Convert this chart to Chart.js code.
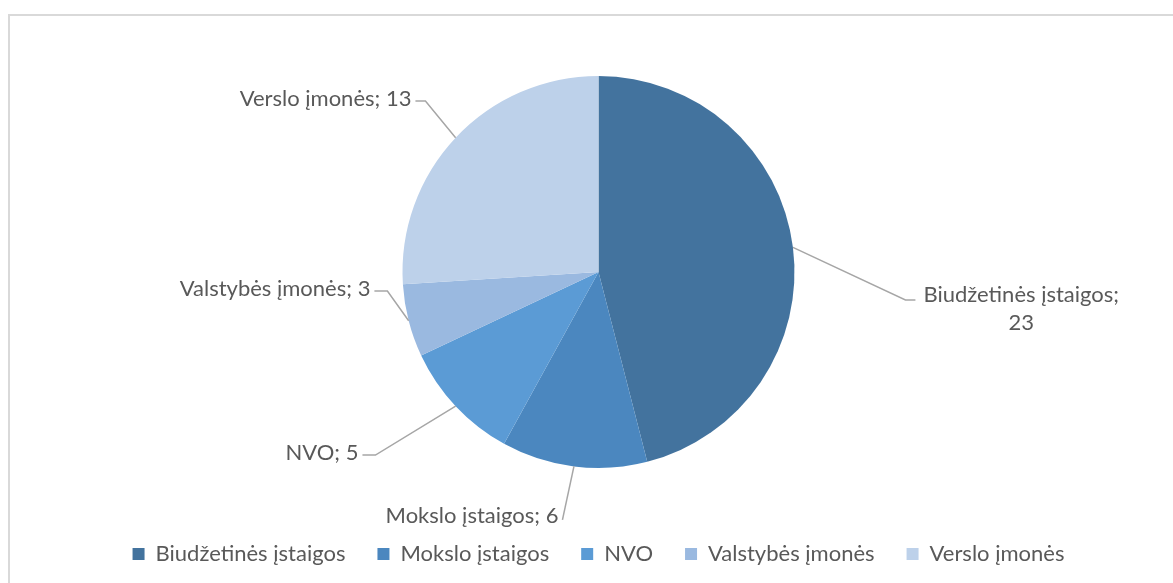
<!DOCTYPE html>
<html>
<head>
<meta charset="utf-8">
<script src="https://cdn.jsdelivr.net/npm/chart.js@4/dist/chart.umd.min.js"></script>
<style>
  html, body { margin: 0; padding: 0; background: #fff; overflow: hidden; }
  #wrap { position: relative; width: 1173px; height: 583px; }
  #remelis {
    position: absolute; left: 8px; top: 14px; width: 1200px; height: 600px;
    border: 2px solid #d9d9d9; box-sizing: border-box;
  }
  canvas { position: absolute; left: 0; top: 0; }
</style>
</head>
<body>
<div id="wrap">
  <div id="remelis"></div>
  <canvas id="grafikas" width="1173" height="583"></canvas>
</div>
<script>
const kategorijos = ["Biudžetinės įstaigos", "Mokslo įstaigos", "NVO", "Valstybės įmonės", "Verslo įmonės"];
const reiksmes = [23, 6, 5, 3, 13];
const spalvos = ["#43739e", "#4b87bf", "#5b9bd5", "#9ab9e0", "#bdd1ea"];

// etikeciu vietos (santykinai su spinduliu nuo centro) ir eiluciu laužymas
const etiketes = [
  { dx: 1.566, dy: 0.143, uodega: 10, puse: "desine", eilutes: ["Biudžetinės įstaigos;", "23"] },
  { dx: -0.184, dy: 1.265, uodega: 0, puse: "kaire" },
  { dx: -1.138, dy: 0.934, uodega: 13, puse: "kaire" },
  { dx: -1.077, dy: 0.097, uodega: 13, puse: "kaire" },
  { dx: -0.883, dy: -0.872, uodega: 10, puse: "kaire" },
];

const SRIFTAS = "Lato, 'DejaVu Sans', sans-serif";

const etikeciuPlugin = {
  id: "etiketes",
  afterDatasetsDraw(chart) {
    const ctx = chart.ctx;
    const meta = chart.getDatasetMeta(0);
    ctx.save();
    ctx.font = "22px " + SRIFTAS;
    ctx.fillStyle = "#595959";
    ctx.strokeStyle = "#a6a6a6";
    ctx.lineWidth = 1.5;
    meta.data.forEach((arc, i) => {
      const { x, y, startAngle, endAngle, outerRadius } = arc.getProps(["x", "y", "startAngle", "endAngle", "outerRadius"], true);
      const vid = (startAngle + endAngle) / 2;
      const kx = x + Math.cos(vid) * outerRadius;
      const ky = y + Math.sin(vid) * outerRadius;
      const e = etiketes[i];
      const lx = x + e.dx * outerRadius;
      const ly = y + e.dy * outerRadius;
      const galas = e.puse === "desine" ? lx + e.uodega : lx - e.uodega;
      ctx.beginPath();
      ctx.moveTo(kx, ky);
      ctx.lineTo(lx, ly);
      ctx.lineTo(galas, ly);
      ctx.stroke();
      if (e.eilutes) {
        const plotis = Math.max(...e.eilutes.map(t => ctx.measureText(t).width));
        const cx = galas + 8 + plotis / 2;
        ctx.textAlign = "center";
        ctx.textBaseline = "middle";
        e.eilutes.forEach((t, j) => ctx.fillText(t, cx, ly - 5 + j * 28));
      } else {
        const tekstas = kategorijos[i] + "; " + reiksmes[i];
        ctx.textAlign = "right";
        ctx.textBaseline = "middle";
        const ty = e.uodega === 0 ? ly - 4 : ly - 2;
        ctx.fillText(tekstas, galas - 4, ty);
      }
    });
    ctx.restore();
  }
};

new Chart(document.getElementById("grafikas"), {
  type: "pie",
  data: {
    labels: kategorijos,
    datasets: [{
      data: reiksmes,
      backgroundColor: spalvos,
      borderWidth: 0,
      radius: 196,
    }],
  },
  options: {
    responsive: false,
    animation: false,
    layout: { padding: { top: 33, bottom: 8, left: 24, right: 0 } },
    plugins: {
      title: { display: false },
      tooltip: { enabled: false },
      legend: {
        display: true,
        position: "bottom",
        labels: {
          boxWidth: 12,
          boxHeight: 12,
          padding: 32,
          color: "#595959",
          font: { family: SRIFTAS, size: 22 },
        },
      },
    },
  },
  plugins: [etikeciuPlugin],
});
</script>
</body>
</html>
